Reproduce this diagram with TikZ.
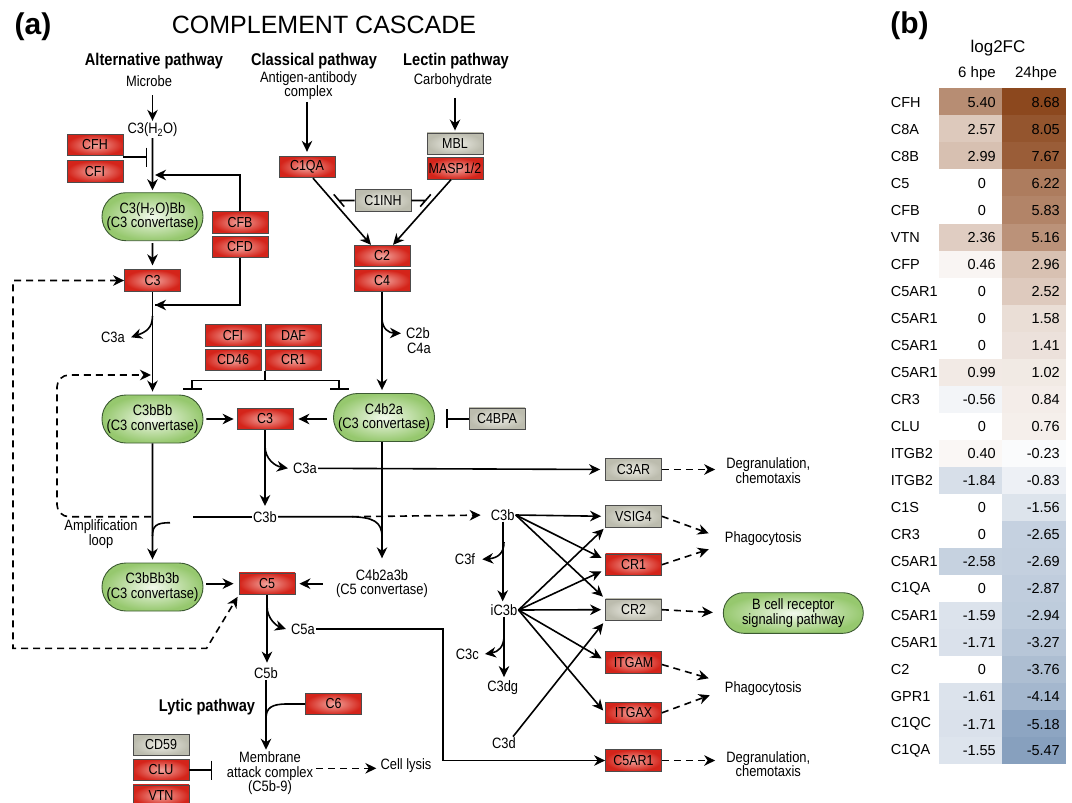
\documentclass[tikz,border=0pt]{standalone}
\usepackage{fontspec}
\setmainfont{Liberation Sans}
\newfontfamily\narrowfont[FakeStretch=0.86]{Liberation Sans}
\usetikzlibrary{arrows.meta,shapes.misc,positioning,calc}

\definecolor{boxred}{RGB}{212,36,26}
\definecolor{boxredlight}{RGB}{242,165,158}
\definecolor{boxgrey}{RGB}{188,188,174}
\definecolor{boxgreylight}{RGB}{238,238,230}
\definecolor{convgreen}{RGB}{150,200,110}
\definecolor{convgreenlight}{RGB}{242,249,236}
\definecolor{convedge}{RGB}{60,90,50}
\definecolor{hotbrown}{RGB}{140,72,30}
\definecolor{coldblue}{RGB}{135,160,190}

% heat map cell: x, y (top), value
\newcommand\hcell[3]{%
  \pgfmathsetmacro\hpct{min(100,abs(#3)/ifthenelse(#3>0,8.68,5.47)*100)}%
  \ifdim #3pt<0pt \def\hcol{coldblue}\else\def\hcol{hotbrown}\fi
  \fill[\hcol!\hpct!white] (#1,#2) rectangle ++(63.4,27.04);}

\tikzset{
  >={Stealth[length=11pt,width=10.5pt,inset=3.5pt]},
  lbl/.style={font=\narrowfont\fontsize{15}{14.4}\selectfont, align=center, inner sep=1pt},
  head/.style={font=\narrowfont\bfseries\fontsize{17}{17}\selectfont, inner sep=1pt},
  gene/.style={rectangle, draw=black!70, line width=0.8pt, minimum width=56pt,
    minimum height=21.5pt, inner sep=0pt, font=\narrowfont\fontsize{14.5}{14.5}\selectfont},
  redgene/.style={gene, inner color=boxredlight, outer color=boxred},
  greygene/.style={gene, inner color=boxgreylight, outer color=boxgrey},
  conv/.style={rounded rectangle, draw=convedge, line width=0.9pt, minimum width=101pt,
    minimum height=48pt, inner sep=0pt, inner color=convgreenlight, outer color=convgreen,
    align=center, font=\narrowfont\fontsize{15}{14.4}\selectfont},
  ln/.style={line width=1.6pt},
  arr/.style={ln, ->},
  dasharr/.style={arr, dash pattern=on 7pt off 5pt},
  inh/.style={ln, -{Bar[width=19pt,line width=1.6pt]}},
  cell/.style={font=\fontsize{14.5}{14.5}\selectfont, inner sep=0pt}
}

\begin{document}
\begin{tikzpicture}[x=1pt,y=-1pt]
\useasboundingbox (0,0) rectangle (1072,803);
\clip (0,0) rectangle (1072,803);

% titles
\node[font=\bfseries\fontsize{30}{30}\selectfont] (pa) at (33,27) {(a)};
\node[font=\fontsize{25}{25}\selectfont] (title) at (324,25) {COMPLEMENT CASCADE};
\node[font=\bfseries\fontsize{30}{30}\selectfont] (pb) at (909.5,26) {(b)};

% pathway heads
\node[head] (altp) at (154,60.7) {Alternative pathway};
\node[lbl] (microbe) at (149,80.7) {Microbe};
\node[head] (clasp) at (314,60.7) {Classical pathway};
\node[lbl] (antigen) at (308.5,85.5) {Antigen-antibody\\complex};
\node[head] (lectp) at (456,60.7) {Lectin pathway};
\node[lbl] (carbo) at (453,80.7) {Carbohydrate};

% alternative pathway
\node[lbl] (c3h2o) at (152.5,130) {C3(H\textsubscript{2}O)};
\node[redgene] (cfh) at (95,145) {CFH};
\node[redgene] (cfi) at (95,171.5) {CFI};
\node[conv] (c3h2obb) at (152.5,216.7) {C3(H\textsubscript{2}O)Bb\\(C3 convertase)};
\node[redgene] (cfb) at (240,222.5) {CFB};
\node[redgene] (cfd) at (240,247) {CFD};
\node[redgene] (c3top) at (152.5,280.5) {C3};
\coordinate (jcfb) at (155,175);
\coordinate (jcfd) at (155,305);

\draw[arr, shorten <=8pt, shorten >=1pt] (microbe.south -| c3h2o.north) -- (c3h2o.north);
\draw[arr, shorten >=2pt] (c3h2o) -- (c3h2obb);
\draw[inh] (cfh.south east) ++(0,1) -- ++(24,0);
\draw[arr] (cfb.north) |- (jcfb);
\draw[arr, shorten <=2pt, shorten >=4pt] (c3h2obb) -- (c3top);
\draw[ln] (cfd.south) |- (jcfd);
\draw[arr] (cfd.south |- jcfd) -- (jcfd);

% classical and lectin pathways
\node[redgene] (c1qa) at (307,167) {C1QA};
\node[greygene] (mbl) at (455,143.7) {MBL};
\node[redgene] (masp) at (455,168.5) {MASP1/2};
\node[greygene] (c1inh) at (383,200.5) {C1INH};
\node[redgene] (c2) at (382,256) {C2};
\node[redgene] (c4) at (382,280.5) {C4};

\draw[arr, shorten <=1pt, shorten >=4pt] (antigen.south -| c1qa.north) -- (c1qa.north);
\draw[arr, shorten <=9pt, shorten >=2pt] (carbo.south -| mbl.north) -- (mbl.north);
\draw[arr] ([xshift=6pt]c1qa.south) -- ([xshift=-11pt]c2.north);
\draw[arr] ([xshift=-4pt]masp.south) -- ([xshift=11pt]c2.north);
\draw[ln] (c1inh.west) -- (339,200.5) ++(-5.2,-6.1) -- ++(10.4,12.2);
\draw[ln] (c1inh.east) -- (425.5,200.5) ++(5.3,-6.1) -- ++(-10.6,12.2);

% C3 convertases
\node[lbl] (c3a1) at (113,337.3) {C3a};
\node[redgene] (cfi2) at (233,335.5) {CFI};
\node[redgene] (daf) at (293.5,335.5) {DAF};
\node[redgene] (cd46) at (233,360) {CD46};
\node[redgene] (cr1a) at (293.5,360) {CR1};
\node[lbl] (c2b) at (418,333.3) {C2b};
\node[lbl] (c4a) at (419,348.3) {C4a};
\node[conv] (c3bbb) at (152.5,419) {C3bBb\\(C3 convertase)};
\node[redgene] (c3mid) at (265,419) {C3};
\node[conv] (c4b2a) at (384,417.5) {C4b2a\\(C3 convertase)};
\node[greygene] (c4bpa) at (497,418.7) {C4BPA};

\draw[arr, shorten >=3pt] (c3top) -- (c3top |- c3bbb.north);
\draw[arr] (152.5,316) .. controls (152.5,328) and (146,332) .. ([xshift=5pt]c3a1.east);
\draw[arr] (382,318) .. controls (382,329) and (389,333) .. ([xshift=-4pt]c2b.west);
\draw[arr, shorten >=3pt] (c4) -- (c4 |- c4b2a.north);
\draw[ln] (cr1a.south west) -- ++(0,9.5) coordinate (jinh);
\draw[inh] (jinh) -| (192,390);
\draw[inh] (jinh) -| (339,390);
\draw[arr, shorten <=3pt, shorten >=3pt] (c3bbb) -- (c3mid);
\draw[arr, shorten <=6pt, shorten >=5pt] (c4b2a.west |- c3mid) -- (c3mid.east);
\draw[inh, shorten >=11pt] (c4bpa.west) -- (c4b2a.east |- c4bpa);

% amplification loop
\node[lbl] (c3bmid) at (265,516.7) {C3b};
\node[lbl] (amp) at (101,534) {Amplification\\loop};
\node[lbl] (c3a2) at (305,468.3) {C3a};
\draw[dasharr, rounded corners=12pt] (151,516.7) -| (57,375) -- (151,375);
\draw[arr, shorten >=4pt] (c3mid) -- (c3bmid);
\draw[arr] (265,446) .. controls (265,459) and (275,466) .. ([xshift=-4pt]c3a2.west);
\draw[ln] (c3bmid.west) -- (193,516.7);
\draw[ln] (170,522.7) .. controls (156,522.7) and (152.5,526) .. (152.5,536);
\draw[ln] (c3bmid.east) -- (348,516.7) .. controls (374,516.7) and (382,522) .. (382,537);

% C5 convertases
\node[conv] (c3bbb3b) at (152.5,587) {C3bBb3b\\(C3 convertase)};
\node[redgene] (c5) at (267,583.7) {C5};
\node[lbl] (c4b2a3b) at (382,583.7) {C4b2a3b\\(C5 convertase)};
\draw[arr, shorten >=3pt] (c3bbb) -- (c3bbb3b);
\draw[arr, shorten >=10pt] (c4b2a.south -| c4) -- (c4b2a3b.north -| c4);
\draw[arr, shorten <=3pt, shorten >=5pt] (c3bbb3b.east |- c5) -- (c5.west);
\draw[arr, shorten <=12pt, shorten >=4pt] (c4b2a3b.west |- c5) -- (c5.east);
\draw[dasharr, <->] (c3top.west) -| (13,648.3) -- (206.6,648.3) -- ([xshift=-1pt,yshift=-2pt]c5.south west);

% lytic pathway
\node[lbl] (c5a) at (303,629) {C5a};
\node[lbl] (c5b) at (266,673.3) {C5b};
\node[head] (lytic) at (207,706.7) {Lytic pathway};
\node[redgene] (c6) at (333.5,704) {C6};
\node[greygene] (cd59) at (161,745) {CD59};
\node[redgene] (clu) at (161,770) {CLU};
\node[redgene] (vtn) at (161,795.7) {VTN};
\node[lbl] (mac) at (270,773.3) {Membrane\\attack complex\\(C5b-9)};
\node[lbl] (lysis) at (406,766) {Cell lysis};
\coordinate (c5aturn) at (442.7,760.5);

\draw[arr, shorten >=4pt] (c5) -- (c5 |- c5b.north);
\draw[arr] (267,606) .. controls (267,619) and (277,626) .. ([xshift=-4pt]c5a.west);
\draw[arr, shorten >=1pt] (c5b) -- (c5b |- mac.north);
\draw[ln] (c6.west) -- (287,704) .. controls (271,704) and (266,708) .. (266,719);
\draw[inh] (clu.east) -- ++(23,0);
\draw[dasharr, shorten <=2pt, shorten >=3pt] (mac.east |- 0,768.3) -- (lysis.west |- 0,768.3);

% receptors
\node[greygene] (c3ar) at (633.5,469.5) {C3AR};
\node[lbl] (degr1) at (768.3,470.5) {Degranulation,\\chemotaxis};
\node[lbl] (c3bright) at (502.7,515) {C3b};
\node[lbl] (c3f) at (465,559.3) {C3f};
\node[lbl] (ic3b) at (504,610) {iC3b};
\node[lbl] (c3c) at (467.3,654) {C3c};
\node[lbl] (c3dg) at (502.7,687.3) {C3dg};
\node[lbl] (c3d) at (504,743.3) {C3d};
\node[greygene] (vsig4) at (633.5,516.3) {VSIG4};
\node[redgene] (cr1b) at (633.5,564.7) {CR1};
\node[greygene] (cr2) at (633.5,609.7) {CR2};
\node[redgene] (itgam) at (633.5,662.5) {ITGAM};
\node[redgene] (itgax) at (633.5,712.8) {ITGAX};
\node[redgene] (c5ar1) at (633.5,760.5) {C5AR1};
\node[lbl] (phago1) at (763.3,538.3) {Phagocytosis};
\node[conv, minimum width=140pt, minimum height=40.6pt] (bcell) at (793.3,613) {B cell receptor\\signaling pathway};
\node[lbl] (phago2) at (763.3,688.3) {Phagocytosis};
\node[lbl] (degr2) at (768.3,764) {Degranulation,\\chemotaxis};

\draw[arr, shorten >=5pt] (c3a2.east) -- (c3ar.west);
\draw[dasharr, shorten >=10pt] (c3ar) -- (degr1.west |- c3ar);
\draw[dasharr, shorten >=9pt] (352,516.7) -- (c3bright.west);
\draw[arr, shorten >=4pt] (c3bright.east) -- (vsig4.west);
\draw[arr, shorten >=4pt] (c3bright.east) -- ([yshift=5pt]cr1b.west);
\draw[arr, shorten >=3pt] (c3bright.east) -- ([yshift=11pt]cr2.west);
\draw[arr, shorten >=2pt] (c3bright.south) -- (c3bright.south |- ic3b.north);
\draw[arr] (504,542) .. controls (504,553) and (498,558) .. ([xshift=6pt]c3f.east);
\draw[arr, shorten >=2pt] (ic3b.east) -- (vsig4.south west);
\draw[arr, shorten >=4pt] (ic3b.east) -- ([yshift=-5pt]cr1b.west);
\draw[arr, shorten >=4pt] (ic3b.east) -- (cr2.west);
\draw[arr, shorten >=4pt] (ic3b.east) -- ([yshift=2pt]itgam.west);
\draw[arr, shorten >=3pt] (ic3b.east) -- (itgax.west);
\draw[arr, shorten >=2pt] (ic3b.south) -- (ic3b.south |- c3dg.north);
\draw[arr] (504,636) .. controls (504,647) and (498,652) .. ([xshift=5pt]c3c.east);
\draw[arr, shorten >=3pt] ([xshift=-4pt]c3d.north east) -- (cr2.south west);
\draw[arr] (c5a.east) -| (c5aturn) -- (c5ar1.west);
\draw[dasharr] (vsig4.east) -- ($(phago1.west)+(-15,-5)$);
\draw[dasharr] (cr1b.east) -- ($(phago1.west)+(-15,11)$);
\draw[dasharr, shorten >=10pt] (cr2.east) -- (bcell.west);
\draw[dasharr] ([yshift=-2pt]itgam.east) -- ($(phago2.west)+(-15,-10)$);
\draw[dasharr] (itgax.east) -- ($(phago2.west)+(-14,7)$);
\draw[dasharr, shorten >=10pt] (c5ar1.east) -- (degr2.west |- c5ar1);

% heat map
\node[font=\fontsize{17}{17}\selectfont] (logfc) at (998,48.3) {log2FC};
\node[font=\fontsize{15}{15}\selectfont] (h6) at (977,74) {6 hpe};
\node[font=\fontsize{15}{15}\selectfont] (h24) at (1036,74) {24hpe};
\foreach \g/\a/\b [count=\i] in {CFH/5.40/8.68, C8A/2.57/8.05, C8B/2.99/7.67, C5/0/6.22,
    CFB/0/5.83, VTN/2.36/5.16, CFP/0.46/2.96, C5AR1/0/2.52, C5AR1/0/1.58, C5AR1/0/1.41,
    C5AR1/0.99/1.02, CR3/-0.56/0.84, CLU/0/0.76, ITGB2/0.40/-0.23, ITGB2/-1.84/-0.83,
    C1S/0/-1.56, CR3/0/-2.65, C5AR1/-2.58/-2.69, C1QA/0/-2.87, C5AR1/-1.59/-2.94,
    C5AR1/-1.71/-3.27, C2/0/-3.76, GPR1/-1.61/-4.14, C1QC/-1.71/-5.18, C1QA/-1.55/-5.47}{
  \pgfmathsetmacro\ytop{88.3+(\i-1)*27.04}
  \hcell{939}{\ytop}{\a}
  \hcell{1002.4}{\ytop}{\b}
  \node[cell, anchor=west] (gene\i) at (890.7,\ytop+13.8) {\g};
  \ifdim \a pt=0pt
    \node[cell] (va\i) at (982,\ytop+13.8) {\a};
  \else
    \node[cell, anchor=east] (va\i) at (996,\ytop+13.8) {\a};
  \fi
  \node[cell, anchor=east] (vb\i) at (1060,\ytop+13.8) {\b};
}
\end{tikzpicture}
\end{document}
